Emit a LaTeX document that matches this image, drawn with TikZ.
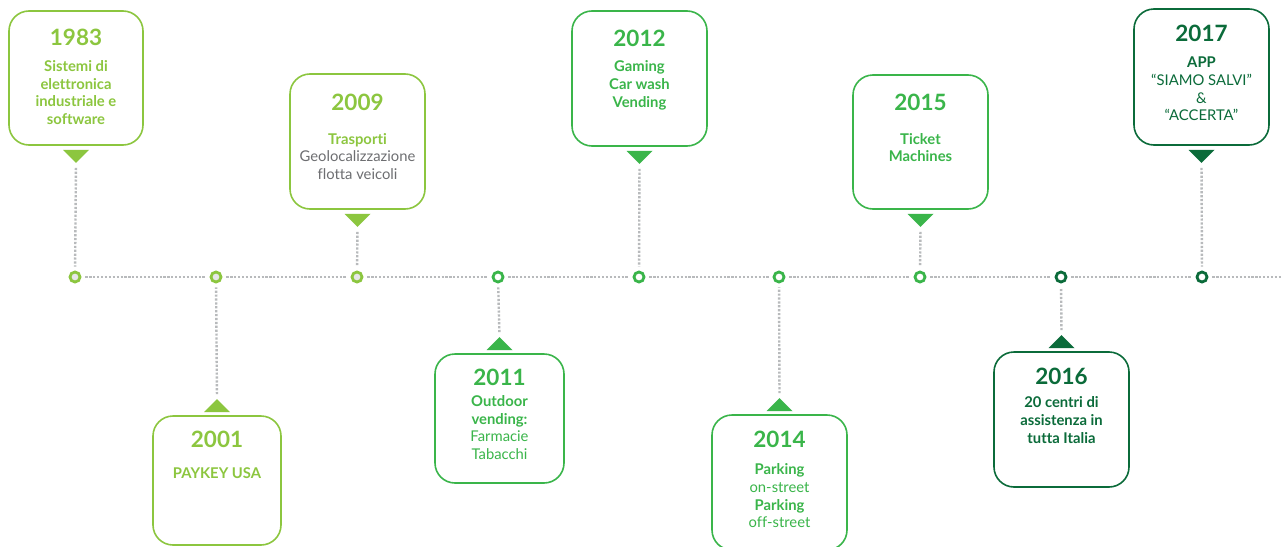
\documentclass[tikz,border=0pt]{standalone}
\usepackage{fontspec}
\setmainfont{Lato}[Ligatures={NoCommon}]
\usetikzlibrary{calc}
\definecolor{lime}{HTML}{8CC63F}
\definecolor{grn}{HTML}{3AB54A}
\definecolor{dgrn}{HTML}{0B6B3A}
\definecolor{txtgray}{HTML}{6D6E71}
\definecolor{dotgray}{HTML}{B8BABC}
\definecolor{dotfill}{HTML}{E6E7E8}
\tikzset{
 box/.style={draw=#1, line width=1.6pt, rounded corners=20pt, fill=white, inner sep=0pt},
 dotline/.style={draw=dotgray, line width=2.4pt, dash pattern=on 2.2pt off 1.7pt},
 yr/.style={text=#1, font=\fontsize{22.5}{26}\selectfont\bfseries, inner sep=0pt},
 bodytxt/.style={text=#1, font=\fontsize{14.8}{17.7}\selectfont\bfseries, align=center, inner sep=0pt},
 tldot/.style={circle, draw=#1, line width=2.8pt, minimum size=10pt, inner sep=0pt, fill=white},
 graydot/.style={tldot=#1, fill=dotfill},
}
\begin{document}
\begin{tikzpicture}[x=1pt,y=-1pt]
\useasboundingbox[fill=white] (0,0) rectangle (1282,546);

% timeline dots
\node[graydot=lime] (c1) at (75,277) {};
\node[graydot=lime] (c2) at (216,277) {};
\node[graydot=lime] (c3) at (357,277) {};
\node[tldot=grn] (c4) at (498,277) {};
\node[tldot=grn] (c5) at (639,277) {};
\node[tldot=grn] (c6) at (779,277) {};
\node[tldot=grn] (c7) at (920,277) {};
\node[tldot=dgrn] (c8) at (1061,277) {};
\node[tldot=dgrn] (c9) at (1202,277) {};
\coordinate (cend) at (1290,277);

\foreach \a/\b in {c1/c2,c2/c3,c3/c4,c4/c5,c5/c6,c6/c7,c7/c8,c8/c9}
  \draw[dotline, shorten <=4pt, shorten >=4pt] (\a) -- (\b);
\draw[dotline, shorten <=4pt] (c9) -- (cend);

% boxes
\node[box=lime, minimum width=134pt, minimum height=134pt] (b1983) at (76,78) {};
\node[box=lime, minimum width=128pt, minimum height=129pt] (b2001) at (217,480.5) {};
\node[box=lime, minimum width=135pt, minimum height=135pt] (b2009) at (357.5,141.5) {};
\node[box=grn, minimum width=129pt, minimum height=129pt] (b2011) at (499.5,418.5) {};
\node[box=grn, minimum width=135pt, minimum height=135pt] (b2012) at (639.5,78.5) {};
\node[box=grn, minimum width=135pt, minimum height=135pt] (b2014) at (779.5,482.5) {};
\node[box=grn, minimum width=135pt, minimum height=134pt] (b2015) at (920.5,142) {};
\node[box=dgrn, minimum width=135pt, minimum height=135pt] (b2016) at (1061.5,419.5) {};
\node[box=dgrn, minimum width=135pt, minimum height=136pt] (b2017) at (1201.5,77) {};

% pointers (top boxes: down triangles)
\foreach \b/\c/\col in {b1983/c1/lime, b2009/c3/lime, b2012/c5/grn, b2015/c7/grn, b2017/c9/dgrn}{
  \fill[\col] ($(\b.south)+(-13,4)$) -- ++(26,0) -- ++(-13,13) -- cycle;
  \coordinate (t\b) at ($(\b.south)+(0,17)$);
  \draw[dotline, shorten <=5pt, shorten >=4pt] (t\b) -- (\c);
}
% bottom boxes: up triangles
\foreach \b/\c/\col in {b2001/c2/lime, b2011/c4/grn, b2014/c6/grn, b2016/c8/dgrn}{
  \fill[\col] ($(\b.north)+(-13,-3)$) -- ++(26,0) -- ++(-13,-13) -- cycle;
  \coordinate (t\b) at ($(\b.north)+(0,-16)$);
  \draw[dotline, shorten <=5pt, shorten >=4pt] (t\b) -- (\c);
}

% texts
\node[yr=lime] (y1983) at (76,37) {1983};
\node[bodytxt=lime] (x1983) at (76,92.5) {Sistemi di\\elettronica\\industriale e\\software};

\node[yr=lime] (y2001) at (217,439) {2001};
\node[bodytxt=lime] (x2001) at (217,473) {PAYKEY USA};

\node[yr=lime] (y2009) at (357.5,102) {2009};
\node[bodytxt=lime] (x2009) at (357.5,156.5) {Trasporti\\{\mdseries\color{txtgray}Geolocalizzazione}\\{\mdseries\color{txtgray}flotta veicoli}};

\node[yr=grn] (y2011) at (499.5,377) {2011};
\node[bodytxt=grn] (x2011) at (499.5,427.5) {Outdoor\\vending:\\{\mdseries Farmacie}\\{\mdseries Tabacchi}};

\node[yr=grn] (y2012) at (639.5,38.5) {2012};
\node[bodytxt=grn] (x2012) at (639.5,85.5) {Gaming\\Car wash\\Vending};

\node[yr=grn] (y2014) at (779.5,439) {2014};
\node[bodytxt=grn] (x2014) at (779.5,496) {Parking\\{\mdseries on-street}\\Parking\\{\mdseries off-street}};

\node[yr=grn] (y2015) at (920.5,102) {2015};
\node[bodytxt=grn] (x2015) at (920.5,147.5) {Ticket\\Machines};

\node[yr=dgrn] (y2016) at (1061.5,376) {2016};
\node[bodytxt=dgrn] (x2016) at (1061.5,420) {20 centri di\\assistenza in\\tutta Italia};

\node[yr=dgrn] (y2017) at (1201.5,33.5) {2017};
\node[bodytxt=dgrn] (x2017) at (1201.5,89) {APP\\{\mdseries “SIAMO SALVI”}\\{\mdseries \&}\\{\mdseries “ACCERTA”}};
\end{tikzpicture}
\end{document}
